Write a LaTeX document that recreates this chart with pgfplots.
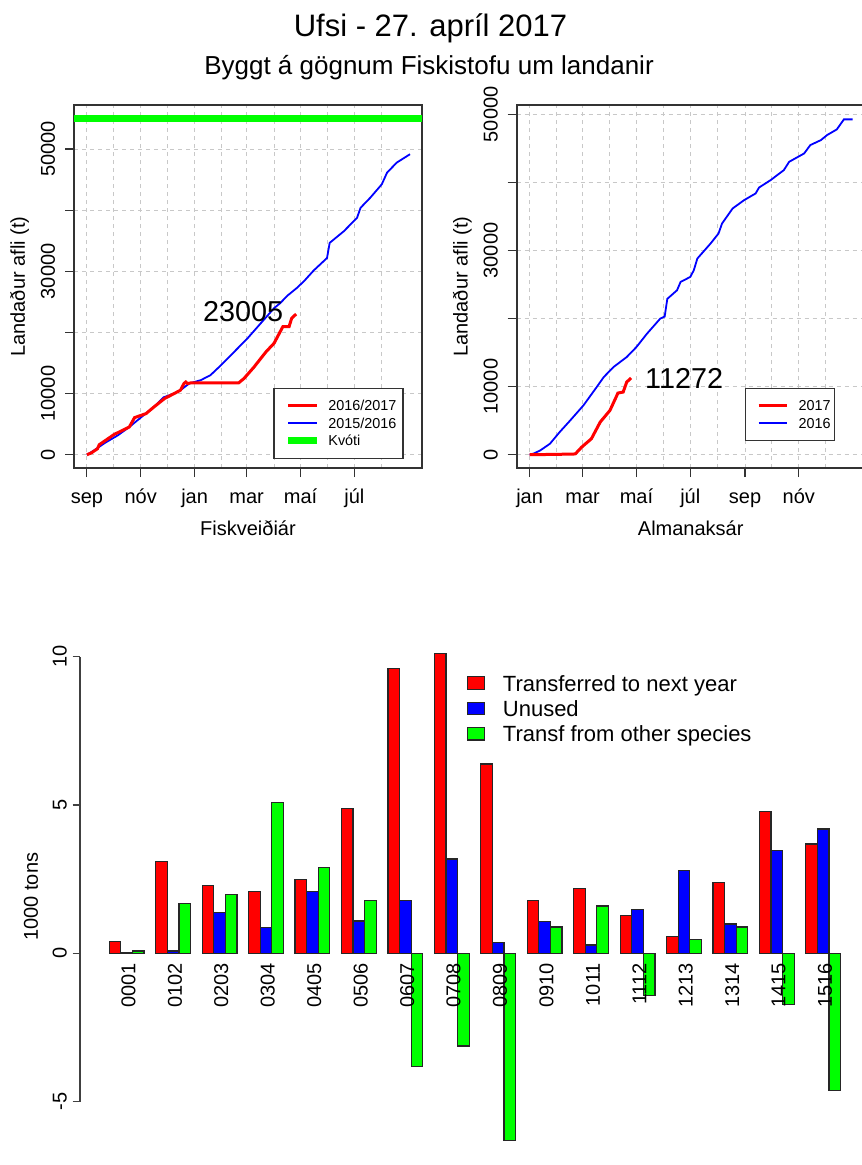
\documentclass[border=0pt]{standalone}
\usepackage{fontspec}
\setmainfont{Liberation Sans}
\usepackage{pgfplots}
\pgfplotsset{compat=1.18}

\definecolor{rred}{RGB}{255,0,0}
\definecolor{rblue}{RGB}{0,0,255}
\definecolor{rgreen}{RGB}{0,255,0}
\definecolor{gridgray}{RGB}{200,200,200}

\pgfplotsset{
  catchaxis/.style={
    scale only axis, width=174pt, height=181.6pt, anchor=north west,
    xmin=-14.6, xmax=379.6,
    axis line style={black!80, line width=0.9pt},
    tick pos=left, tick align=outside,
    major tick length=4.5pt, minor tick length=0pt,
    every tick/.style={black!80, line width=0.6pt},
    grid=both,
    major grid style={gridgray, dash pattern=on 2pt off 2pt, line width=0.5pt},
    minor grid style={gridgray, dash pattern=on 2pt off 2pt, line width=0.5pt},
    ytick={0,10000,20000,30000,40000,50000},
    yticklabels={0,10000,,30000,,50000},
    scaled y ticks=false,
    tick label style={font=\fontsize{10}{12}\selectfont},
    yticklabel style={xshift=-5pt, rotate=90, anchor=base},
    xticklabel style={anchor=base, yshift=-13pt},
    every axis x label/.style={at={(axis description cs:0.5,0)}, anchor=base, yshift=-33.65pt,
      font=\fontsize{10}{12}\selectfont},
    every axis y label/.style={at={(axis description cs:0,0.5)}, xshift=-24.5pt, rotate=90, anchor=base,
      font=\fontsize{10}{12}\selectfont},
    legend cell align=left,
  },
  linelegend/.style={
    legend style={draw=black!80, line width=0.6pt, fill=white, anchor=north west,
      inner ysep=4.375pt, row sep=0pt,
      font=\fontsize{7.2}{8.75}\selectfont,
      nodes={inner sep=0pt, minimum height=8.75pt, text height=5.2pt, text depth=0pt}},
  },
  bars/.style={ybar, bar width=1, bar shift=0pt, draw=black!85, line width=0.6pt},
}

\begin{document}
\begin{tikzpicture}
\useasboundingbox (0pt,0pt) rectangle (430.5pt,-582.5pt);

\node[font=\fontsize{15.5}{18}\selectfont, anchor=base] at (215.25pt,-18.3pt) {Ufsi - 27. apríl 2017};
\node[font=\fontsize{13}{15}\selectfont, anchor=base] at (214.5pt,-37.2pt) {Byggt á gögnum Fiskistofu um landanir};

% ---------- Fishing year (days from 1 September) ----------
\begin{axis}[catchaxis, at={(37pt,-52.5pt)},
  ymin=-2200, ymax=57200,
  xtick={0,61,122,181,242,303}, xticklabels={sep,nóv,jan,mar,maí,júl},
  minor xtick={30,91,153,212,273,334},
  xlabel={Fiskveiðiár}, ylabel={Landaður afli (t)},
  linelegend,
  legend style={at={(axis description cs:0.573,0.2217)}, inner xsep=3.3pt, column sep=4pt},
  legend image code/.code={\path (0pt,0pt); \draw[#1] (2pt,0pt) -- (16.5pt,0pt);},
]
\addlegendimage{rred, line width=1.5pt}\addlegendentry{2016/2017}
\addlegendimage{rblue, line width=0.9pt}\addlegendentry{2015/2016}
\addlegendimage{rgreen, line width=3.4pt}\addlegendentry{Kvóti}
% 2015/2016
\addplot[rblue, line width=0.9pt, forget plot] coordinates {
(0,0) (8,700) (20,1900) (35,3170) (48,4530) (61,6075) (76,7820) (87,9400)
(99,10020) (106,10560) (116,11660) (129,12200) (140,13020) (152,14660)
(167,16850) (182,19050) (197,21510) (212,23970) (219,24800) (227,26000)
(238,27300) (246,28400) (257,30150) (272,32180) (275,34650) (291,36550)
(306,38750) (310,40390) (321,42040) (334,44220) (340,46140) (351,47780) (366,49150)};
% 2016/2017
\addplot[rred, line width=1.5pt, forget plot] coordinates {
(0,0) (5,300) (12,985) (14,1640) (31,3330) (48,4530) (54,6075) (67,6730)
(76,7820) (88,9195) (99,10020) (106,10560) (110,11660) (112,11900) (114,11650)
(118,11760) (172,11760) (178,12480) (189,14290) (203,16850) (212,18230)
(220,20410) (222,20950) (229,20950) (232,22330) (237,23005)};
% quota
\addplot[rgreen, line width=3.4pt, forget plot] coordinates {(-14.6,55000) (379.6,55000)};
\node[font=\fontsize{14.4}{17}\selectfont] at (axis cs:177,23400) {23005};
\end{axis}

% ---------- Calendar year (days from 1 January) ----------
\begin{axis}[catchaxis, at={(258.35pt,-52.5pt)},
  ymin=-1976, ymax=51376,
  xtick={0,60,121,182,244,305}, xticklabels={jan,mar,maí,júl,sep,nóv},
  minor xtick={31,91,152,213,274,335},
  xlabel={Almanaksár}, ylabel={Landaður afli (t)},
  linelegend,
  legend style={at={(axis description cs:0.656,0.2217)}, inner xsep=2pt, column sep=5pt},
  legend image code/.code={\path (0pt,0pt); \draw[#1] (3.8pt,0pt) -- (18pt,0pt);},
]
\addlegendimage{rred, line width=1.5pt}\addlegendentry{2017}
\addlegendimage{rblue, line width=0.9pt}\addlegendentry{2016}
% 2016
\addplot[rblue, line width=0.9pt, forget plot] coordinates {
(0,0) (5,200) (12,630) (23,1610) (34,3320) (46,5040) (61,7250) (76,9940)
(84,11410) (95,12880) (110,14350) (121,15820) (133,17790) (148,20000)
(153,20300) (156,22900) (167,24160) (171,25380) (182,26120) (186,27100)
(190,28820) (205,31030) (214,32500) (218,33970) (230,36180) (243,37400)
(256,38380) (260,39260) (273,40340) (288,41810) (294,43030) (311,44260)
(318,45490) (330,46220) (337,46960) (348,47790) (356,49260) (366,49260)};
% 2017
\addplot[rred, line width=1.5pt, forget plot] coordinates {
(0,0) (50,100) (52,150) (59,1120) (70,2350) (80,4800) (91,6510) (98,8470)
(100,9060) (106,9210) (110,10680) (115,11272)};
\node[font=\fontsize{14.4}{17}\selectfont] at (axis cs:175,11272) {11272};
\end{axis}

% ---------- Quota transfers by fishing year ----------
\begin{axis}[at={(40pt,-328.35pt)}, anchor=north west, scale only axis,
  width=383.25pt, height=222.5pt,
  xmin=-1.52, xmax=64.5, ymin=-5, ymax=10, clip=false, axis on top,
  axis y line*=left, axis x line*=middle,
  hide obscured x ticks=false, hide obscured y ticks=false,
  x axis line style={draw=none}, xtick style={draw=none},
  y axis line style={black!75, line width=0.6pt},
  ytick={-5,0,5,10}, yticklabels={-5,0,5,10},
  ytick style={black!75, line width=0.6pt}, tick align=outside, major tick length=3.7pt,
  xtick={2.5,6.5,...,62.5},
  xticklabels={0001,0102,0203,0304,0405,0506,0607,0708,0809,0910,1011,1112,1213,1314,1415,1516},
  tick label style={font=\fontsize{10}{12}\selectfont},
  xticklabel style={xshift=0.9pt, rotate=90, anchor=east, inner sep=1pt},
  yticklabel style={xshift=-3pt, rotate=90, anchor=base},
  ylabel={1000 tons},
  every axis y label/.style={at={(axis description cs:0,0.4607)}, xshift=-21pt, rotate=90, anchor=base,
    font=\fontsize{10}{12}\selectfont},
  legend style={draw=none, fill=none, at={(axis description cs:0.5045,0.970)}, anchor=north west,
    inner sep=0pt, row sep=0pt, column sep=9pt, font=\fontsize{11}{12.65}\selectfont,
    nodes={inner sep=0pt, minimum height=12.65pt, text height=7.9pt, text depth=0pt}},
  legend cell align=left,
  legend image code/.code={\draw[#1] (0pt,-3.15pt) rectangle (8.3pt,3.15pt);},
]
\addlegendimage{fill=rred, draw=black!85, line width=0.6pt}
\addlegendentry{Transferred to next year}
\addlegendimage{fill=rblue, draw=black!85, line width=0.6pt}
\addlegendentry{Unused}
\addlegendimage{fill=rgreen, draw=black!85, line width=0.6pt}
\addlegendentry{Transf from other species}
% transferred to next year
\addplot[bars, fill=rred, forget plot] coordinates {
(1.5,0.39) (5.5,3.09) (9.5,2.28) (13.5,2.08) (17.5,2.48) (21.5,4.89) (25.5,9.60) (29.5,10.10)
(33.5,6.38) (37.5,1.78) (41.5,2.19) (45.5,1.29) (49.5,0.58) (53.5,2.38) (57.5,4.79) (61.5,3.69)};
% unused
\addplot[bars, fill=rblue, forget plot] coordinates {
(2.5,0.02) (6.5,0.08) (10.5,1.38) (14.5,0.88) (18.5,2.08) (22.5,1.09) (26.5,1.79) (30.5,3.18)
(34.5,0.38) (38.5,1.08) (42.5,0.28) (46.5,1.48) (50.5,2.79) (54.5,0.99) (58.5,3.48) (62.5,4.19)};
% transferred from other species
\addplot[bars, fill=rgreen, forget plot] coordinates {
(3.5,0.08) (7.5,1.69) (11.5,1.99) (15.5,5.09) (19.5,2.90) (23.5,1.79) (27.5,-3.82) (31.5,-3.12)
(35.5,-6.31) (39.5,0.89) (43.5,1.60) (47.5,-1.43) (51.5,0.47) (55.5,0.89) (59.5,-1.72) (63.5,-4.63)};
\end{axis}
\end{tikzpicture}
\end{document}
